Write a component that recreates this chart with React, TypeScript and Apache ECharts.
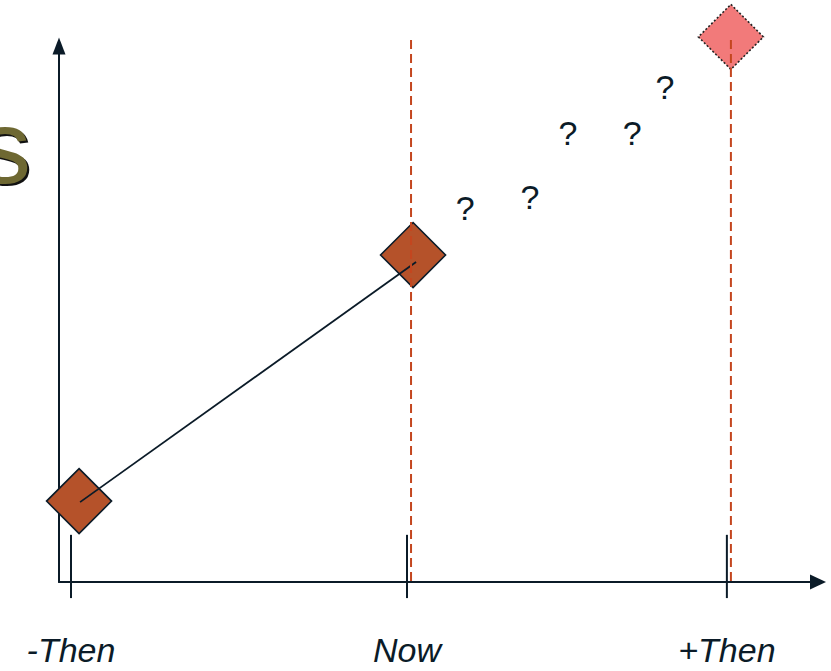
import React, { useEffect, useRef } from "react";
import * as echarts from "echarts";

// ---- data (chart units) ----
const tickLabels = ["-Then", "Now", "+Then"];
const tickX = [0, 10, 19.52];
const tickSpan = [-0.3, 0.88];
const markerX = [0.24, 10.18, 19.64];
const markerY = [1.51, 6.1, 10.17];
const trendX = [0.27, 10.27];
const trendY = [1.49, 5.97];
const guideX = [10.12, 19.64];
const guideSpan = [0, 10.11];
const questionX = [11.73, 13.66, 14.79, 16.7, 17.68];
const questionY = [6.98, 7.18, 8.38, 8.38, 9.24];
const titleText = "s";

const DARK = "#0b1b28";
const ORANGE = "#b5522a";
const PINK = "#f27a7a";
const RED = "#c4461f";
const OLIVE = "#6e6832";

export default function App() {
  const ref = useRef<HTMLDivElement>(null);
  useEffect(() => {
    if (!ref.current) return;
    const chart = echarts.init(ref.current, null, { renderer: "svg" });
    const labelFor = (v: number) => {
      let best = 0;
      for (let i = 1; i < tickX.length; i++) {
        if (Math.abs(tickX[i] - v) < Math.abs(tickX[best] - v)) best = i;
      }
      return tickLabels[best];
    };
    const option: any = {
      animation: false,
      grid: { left: 59, right: 13, top: 46, bottom: 89, containLabel: false, outerBoundsMode: "none" },
      xAxis: {
        type: "value",
        min: -0.357,
        max: 22.232,
        axisLine: {
          show: true,
          onZero: false,
          symbol: ["none", "triangle"],
          symbolSize: [15, 16],
          lineStyle: { color: DARK, width: 2 },
        },
        axisTick: { show: false },
        splitLine: { show: false },
        axisLabel: {
          show: true,
          customValues: tickX,
          formatter: (v: number) => labelFor(v),
          fontSize: 34,
          fontStyle: "italic",
          fontFamily: "'Liberation Sans', Arial, sans-serif",
          color: DARK,
          margin: 51,
        },
      },
      yAxis: {
        type: "value",
        min: 0,
        max: 10,
        axisLine: {
          show: true,
          onZero: false,
          symbol: ["none", "triangle"],
          symbolSize: [13, 17],
          lineStyle: { color: DARK, width: 2 },
        },
        axisTick: { show: false },
        splitLine: { show: false },
        axisLabel: { show: false },
      },
      graphic: [
        {
          type: "text",
          x: -19,
          y: 201,
          z: 10,
          style: {
            text: titleText,
            fontSize: 104,
            fontFamily: "'Liberation Sans', Arial, sans-serif",
            fill: "#111111",
            verticalAlign: "bottom",
          },
        },
        {
          type: "text",
          x: -21,
          y: 199,
          z: 11,
          style: {
            text: titleText,
            fontSize: 104,
            fontFamily: "'Liberation Sans', Arial, sans-serif",
            fill: OLIVE,
            verticalAlign: "bottom",
          },
        },
      ],
      series: [
        {
          type: "custom",
          z: 1,
          clip: false,
          encode: { x: 0, y: [1, 2] },
          data: tickX.map((x) => [x, tickSpan[0], tickSpan[1]]),
          renderItem: (params: any, api: any) => {
            const p0 = api.coord([api.value(0), api.value(1)]);
            const p1 = api.coord([api.value(0), api.value(2)]);
            return {
              type: "line",
              shape: { x1: p0[0], y1: p0[1], x2: p1[0], y2: p1[1] },
              style: { stroke: DARK, lineWidth: 2 },
            };
          },
        },
        {
          type: "scatter",
          z: 2,
          clip: false,
          symbol: "diamond",
          symbolSize: 65,
          itemStyle: { color: ORANGE, borderColor: DARK, borderWidth: 1.6, opacity: 1 },
          data: markerX.map((x, i) =>
            i === 2
              ? {
                  value: [x, markerY[i]],
                  itemStyle: { color: PINK, borderColor: "#222", borderWidth: 1.6, borderType: [2, 2] },
                }
              : { value: [x, markerY[i]] }
          ),
        },
        {
          type: "line",
          z: 3,
          clip: false,
          symbol: "none",
          lineStyle: { color: DARK, width: 1.8 },
          data: trendX.map((x, i) => [x, trendY[i]]),
        },
        {
          type: "custom",
          z: 4,
          clip: false,
          encode: { x: 0, y: [1, 2] },
          data: guideX.map((x) => [x, guideSpan[0], guideSpan[1]]),
          renderItem: (params: any, api: any) => {
            const p0 = api.coord([api.value(0), api.value(1)]);
            const p1 = api.coord([api.value(0), api.value(2)]);
            return {
              type: "line",
              shape: { x1: p0[0], y1: p1[1], x2: p1[0], y2: p0[1] },
              style: { stroke: RED, lineWidth: 2, lineDash: [9, 5] },
            };
          },
        },
        {
          type: "scatter",
          z: 5,
          clip: false,
          symbolSize: 1,
          itemStyle: { color: "rgba(0,0,0,0)", opacity: 1 },
          label: {
            show: true,
            position: "inside",
            formatter: "?",
            fontSize: 34,
            fontFamily: "'Liberation Sans', Arial, sans-serif",
            color: DARK,
            opacity: 1,
            textBorderWidth: 0,
          },
          data: questionX.map((x, i) => [x, questionY[i]]),
        },
      ],
    };
    chart.setOption(option);
    return () => chart.dispose();
  }, []);
  return (
    <div
      ref={ref}
      style={{ position: "fixed", left: 0, top: 0, width: 831, height: 671, background: "#ffffff" }}
    />
  );
}
